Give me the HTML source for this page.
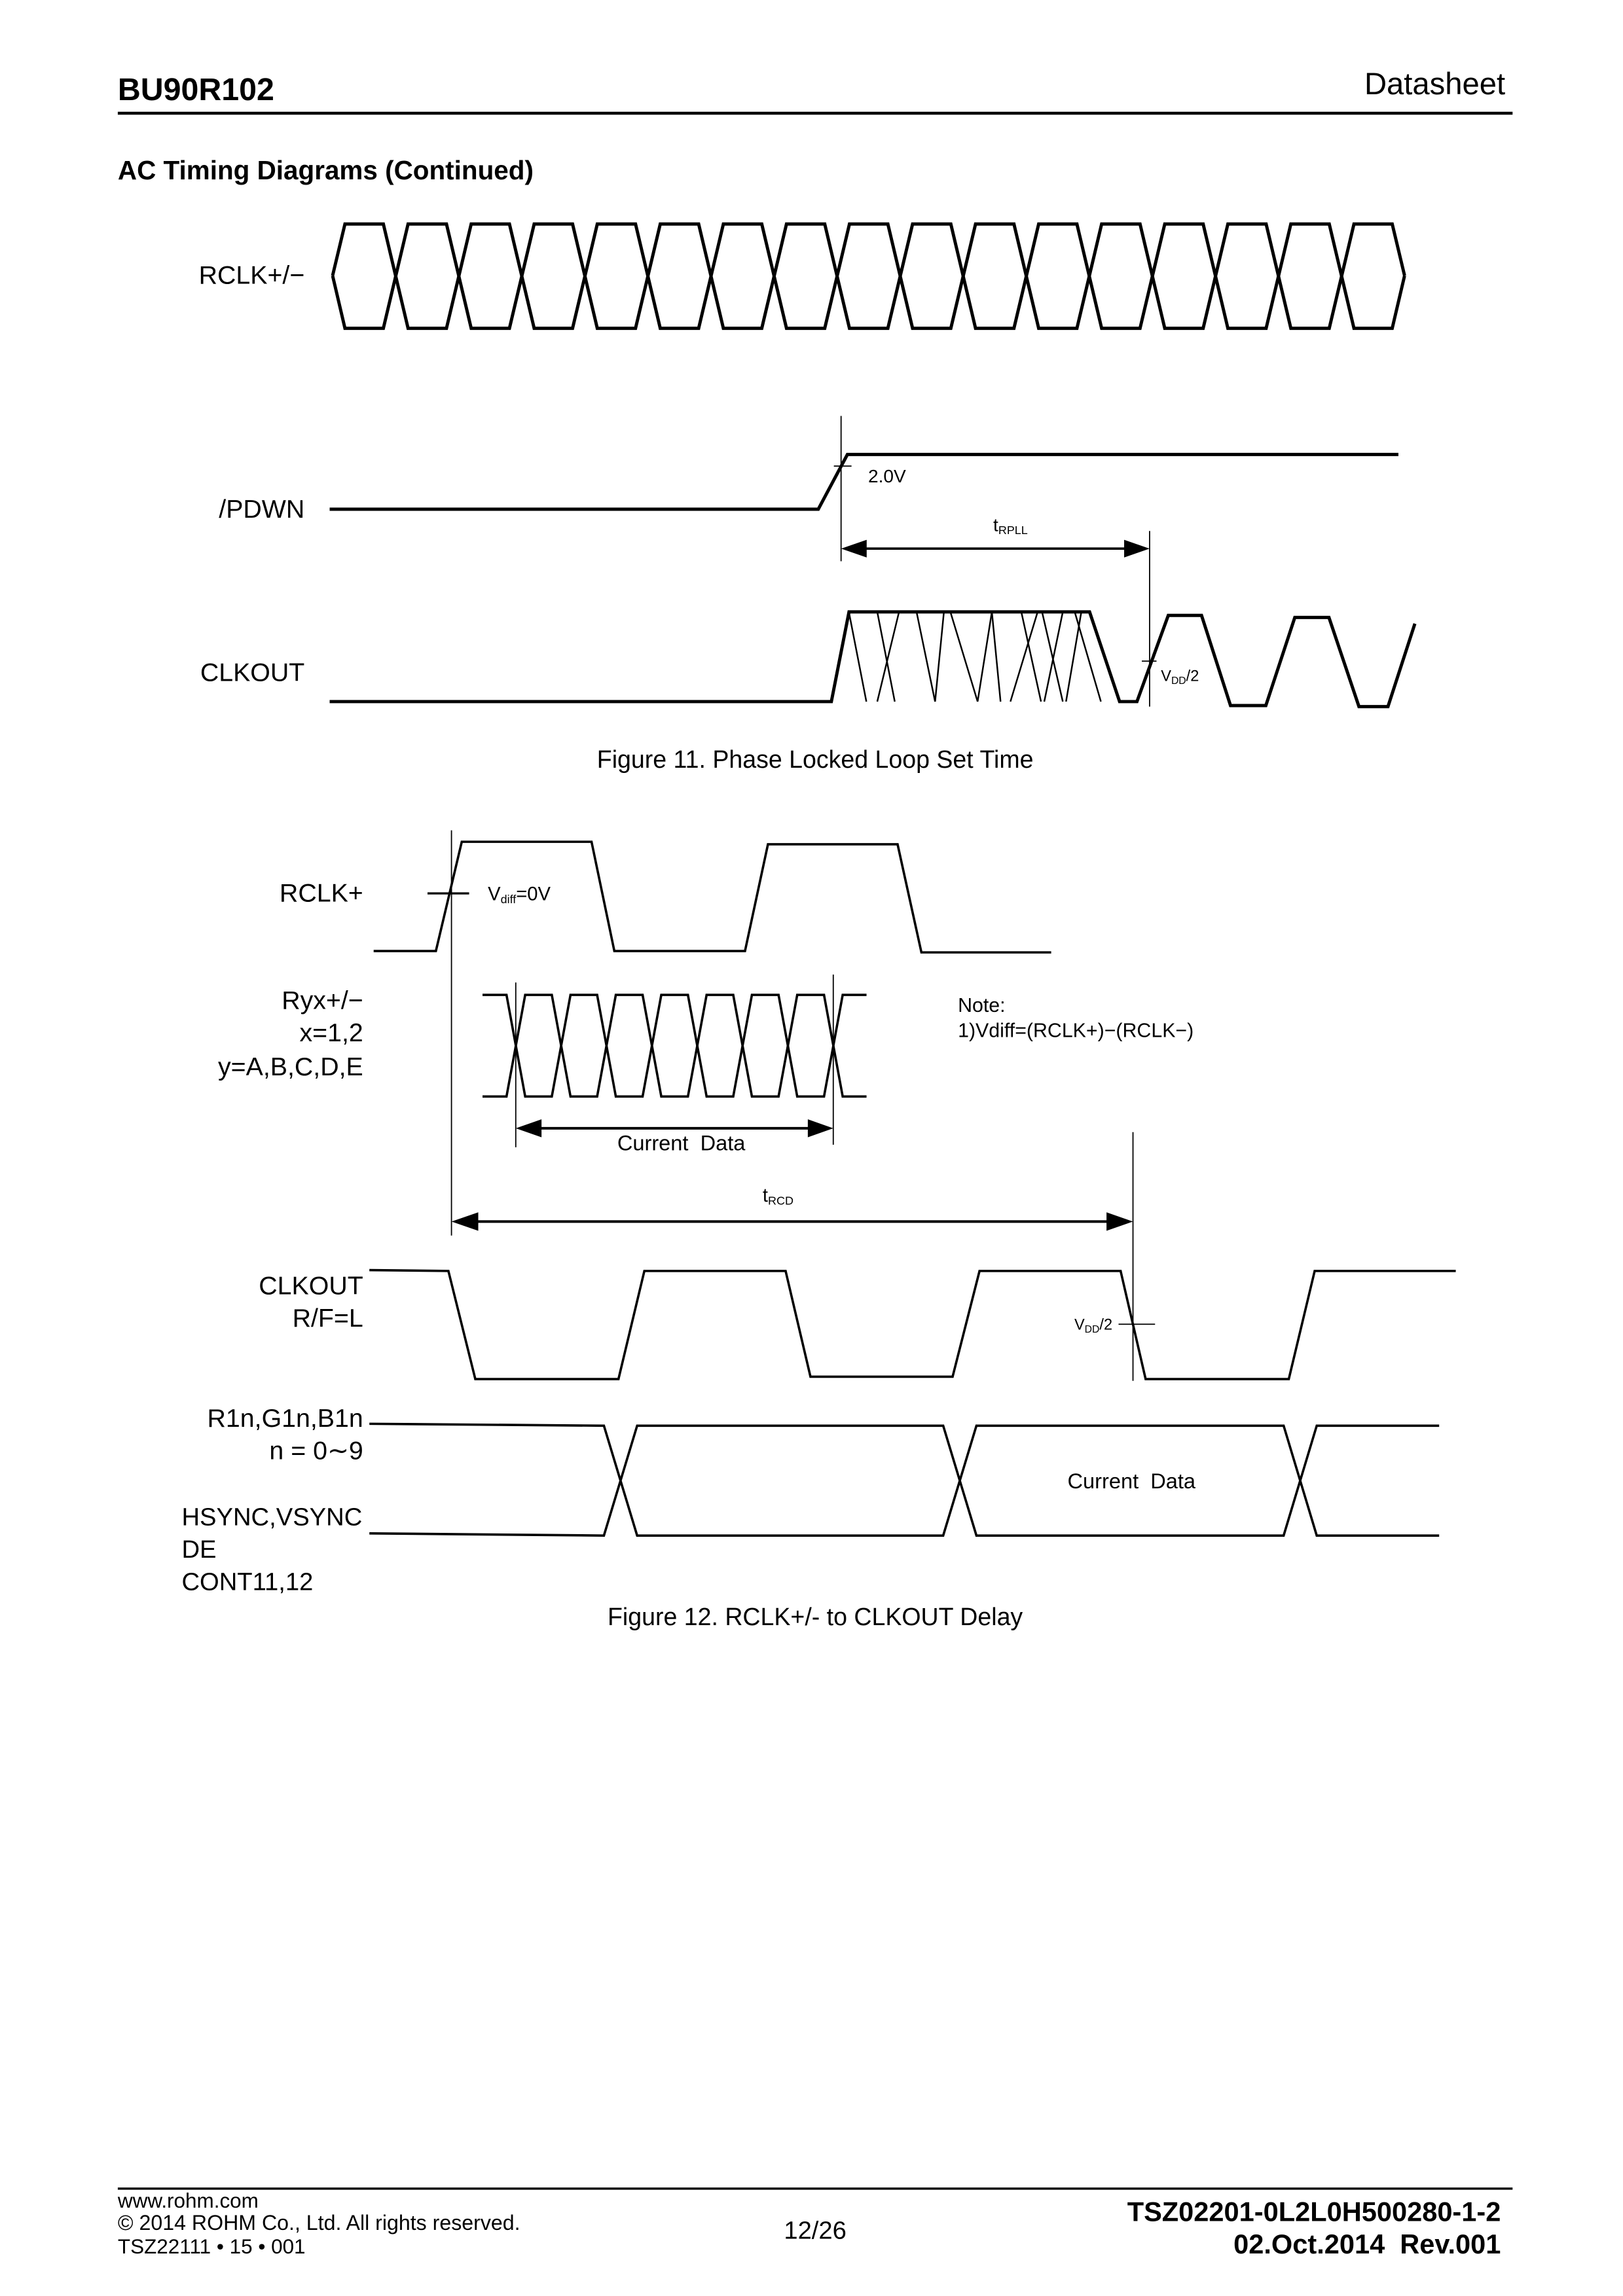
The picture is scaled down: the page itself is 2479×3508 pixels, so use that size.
<!DOCTYPE html>
<html><head><meta charset="utf-8"><style>
html,body{margin:0;padding:0;background:#fff;}
svg{display:block;}
text{font-family:"Liberation Sans",sans-serif;fill:#000;}
</style></head><body>
<svg width="2479" height="3508" viewBox="0 0 1103 1561" xmlns="http://www.w3.org/2000/svg">
<!-- header -->
<text x="80" y="68" font-size="21.5" font-weight="bold">BU90R102</text>
<text x="1023" y="64" font-size="21" text-anchor="end">Datasheet</text>
<line x1="80" y1="77" x2="1028" y2="77" stroke="#000" stroke-width="2"/>
<text x="80" y="122" font-size="18" font-weight="bold">AC Timing Diagrams (Continued)</text>

<g fill="none" stroke="#000" stroke-width="2.2" stroke-linejoin="miter">
<path d="M226,187.4 L234.4,152.3 L260.5,152.3 L277.3,223.2 L303.4,223.2 L320.2,152.3 L346.2,152.3 L363,223.2 L389.1,223.2 L405.9,152.3 L431.9,152.3 L448.7,223.2 L474.8,223.2 L491.6,152.3 L517.7,152.3 L534.5,223.2 L560.5,223.2 L577.3,152.3 L603.4,152.3 L620.2,223.2 L646.2,223.2 L663,152.3 L689.1,152.3 L705.9,223.2 L731.9,223.2 L748.7,152.3 L774.8,152.3 L791.6,223.2 L817.7,223.2 L834.5,152.3 L860.5,152.3 L877.3,223.2 L903.4,223.2 L920.2,152.3 L946.2,152.3 L954.6,187.4"/>
<path d="M226,187.4 L234.4,223.2 L260.5,223.2 L277.3,152.3 L303.4,152.3 L320.2,223.2 L346.2,223.2 L363,152.3 L389.1,152.3 L405.9,223.2 L431.9,223.2 L448.7,152.3 L474.8,152.3 L491.6,223.2 L517.7,223.2 L534.5,152.3 L560.5,152.3 L577.3,223.2 L603.4,223.2 L620.2,152.3 L646.2,152.3 L663,223.2 L689.1,223.2 L705.9,152.3 L731.9,152.3 L748.7,223.2 L774.8,223.2 L791.6,152.3 L817.7,152.3 L834.5,223.2 L860.5,223.2 L877.3,152.3 L903.4,152.3 L920.2,223.2 L946.2,223.2 L954.6,187.4"/>
<path d="M224,346.2 L556.1,346.2 L575.9,309 L950.4,309"/>
<path d="M224,477 L565,477 L577,416 L740.5,416 L760.9,477 L772.7,477 L794,418.4 L816.6,418.4 L836.3,479.7 L860.3,479.7 L880,419.8 L903.2,419.8 L923.6,480.4 L943.3,480.4 L961.6,424"/>
</g>
<g stroke="#000" stroke-width="1.1" fill="none">
<line x1="576.9" y1="416" x2="588.8" y2="477"/>
<line x1="596.2" y1="416" x2="608.1" y2="477"/>
<line x1="611" y1="416" x2="596.2" y2="477"/>
<line x1="622.9" y1="416" x2="635.5" y2="477"/>
<line x1="641.5" y1="416" x2="635.5" y2="477"/>
<line x1="645.9" y1="416" x2="664.4" y2="477"/>
<line x1="674.1" y1="416" x2="664.4" y2="477"/>
<line x1="674.1" y1="416" x2="680" y2="477"/>
<line x1="705.2" y1="416" x2="686.7" y2="477"/>
<line x1="694.1" y1="416" x2="707.5" y2="477"/>
<line x1="708.2" y1="416" x2="722.3" y2="477"/>
<line x1="722.3" y1="416" x2="709.7" y2="477"/>
<line x1="734.9" y1="416" x2="724.5" y2="477"/>
<line x1="730.4" y1="416" x2="748.2" y2="477"/>
</g>
<g stroke="#000" stroke-width="0.8" fill="none">
<line x1="571.6" y1="282.8" x2="571.6" y2="381.6"/>
<line x1="781.3" y1="361" x2="781.3" y2="480.4"/>
<line x1="566.7" y1="316.9" x2="578.7" y2="316.9"/>
<line x1="776" y1="449.5" x2="786" y2="449.5"/>
</g>
<line x1="582" y1="373" x2="771" y2="373" stroke="#000" stroke-width="1.6"/>
<polygon points="571.6,373 589,367 589,379" fill="#000"/>
<polygon points="781.3,373 764,367 764,379" fill="#000"/>
<text x="590" y="328" font-size="12.5">2.0V</text>
<text x="675" y="361" font-size="12.5">t<tspan font-size="8" dy="2">RPLL</tspan></text>
<text x="789" y="463" font-size="10.5">V<tspan font-size="7" dy="2">DD</tspan><tspan dy="-2">/2</tspan></text>
<text x="207" y="193" font-size="17.5" text-anchor="end">RCLK+/−</text>
<text x="207" y="352" font-size="17.5" text-anchor="end">/PDWN</text>
<text x="207" y="463" font-size="17.5" text-anchor="end">CLKOUT</text>
<text x="554" y="522" font-size="16.7" text-anchor="middle">Figure 11. Phase Locked Loop Set Time</text>

<!-- Figure 12 -->
<g fill="none" stroke="#000" stroke-width="1.6">
<path d="M253.9,646.6 L296.2,646.6 L313.8,572.3 L402,572.3 L417.5,646.6 L506.3,646.6 L521.9,574 L610,574 L626.2,647.5 L714.4,647.5"/>
<path d="M327.9,676.4 L344.2,676.4 L356.9,745.5 L375,745.5 L387.7,676.4 L405.8,676.4 L418.5,745.5 L436.7,745.5 L449.4,676.4 L467.5,676.4 L480.2,745.5 L498.3,745.5 L511,676.4 L529.1,676.4 L541.8,745.5 L560,745.5 L572.7,676.4 L588.9,676.4"/>
<path d="M327.9,745.5 L344.2,745.5 L356.9,676.4 L375,676.4 L387.7,745.5 L405.8,745.5 L418.5,676.4 L436.7,676.4 L449.4,745.5 L467.5,745.5 L480.2,676.4 L498.3,676.4 L511,745.5 L529.1,745.5 L541.8,676.4 L560,676.4 L572.7,745.5 L588.9,745.5"/>
<path d="M251,863.5 L304.7,864.1 L323,937.6 L420.3,937.6 L437.9,864.1 L533.9,864.1 L550.8,936 L647.4,936 L665.7,864.1 L761.6,864.1 L778.6,937.6 L875.9,937.6 L893.5,864.1 L989.4,864.1"/>
<path d="M251,968 L410.4,969.3 L433,1044 L641,1044 L663.6,969.3 L872.4,969.3 L894.9,1044 L978.1,1044"/>
<path d="M251,1042.5 L410.4,1044 L433,969.3 L641,969.3 L663.6,1044 L872.4,1044 L894.9,969.3 L978.1,969.3"/>
</g>
<g stroke="#000" stroke-width="0.8" fill="none">
<line x1="306.8" y1="564.5" x2="306.8" y2="840"/>
<line x1="290.5" y1="607.4" x2="318.8" y2="607.4" stroke-width="1.4"/>
<line x1="350.5" y1="668" x2="350.5" y2="780"/>
<line x1="566.3" y1="662.6" x2="566.3" y2="778.3"/>
<line x1="770" y1="769.7" x2="770" y2="938.8"/>
<line x1="760.2" y1="900.3" x2="785" y2="900.3"/>
</g>
<line x1="362" y1="767.1" x2="555" y2="767.1" stroke="#000" stroke-width="1.8"/>
<polygon points="350.5,767.1 368,761 368,773.2" fill="#000"/>
<polygon points="566.3,767.1 549,761 549,773.2" fill="#000"/>
<line x1="318" y1="830.5" x2="757" y2="830.5" stroke="#000" stroke-width="1.8"/>
<polygon points="306.8,830.5 325,824.2 325,836.8" fill="#000"/>
<polygon points="770,830.5 752,824.2 752,836.8" fill="#000"/>
<text x="331.5" y="612" font-size="13">V<tspan font-size="8" dy="2">diff</tspan><tspan dy="-2">=0V</tspan></text>
<text x="463" y="782" font-size="14.5" text-anchor="middle" xml:space="preserve">Current  Data</text>
<text x="518.3" y="817" font-size="13">t<tspan font-size="8" dy="2">RCD</tspan></text>
<text x="651" y="688" font-size="13.5">Note:</text>
<text x="651" y="705" font-size="13.5">1)Vdiff=(RCLK+)−(RCLK−)</text>
<text x="756" y="904" font-size="10.5" text-anchor="end">V<tspan font-size="7" dy="2">DD</tspan><tspan dy="-2">/2</tspan></text>
<text x="769" y="1012" font-size="14.5" text-anchor="middle" xml:space="preserve">Current  Data</text>
<text x="246.8" y="613" font-size="17.5" text-anchor="end">RCLK+</text>
<text x="246.8" y="686" font-size="17.5" text-anchor="end">Ryx+/−</text>
<text x="246.8" y="708" font-size="17.5" text-anchor="end">x=1,2</text>
<text x="246.8" y="731" font-size="17.5" text-anchor="end">y=A,B,C,D,E</text>
<text x="246.8" y="880" font-size="17.5" text-anchor="end">CLKOUT</text>
<text x="246.8" y="902" font-size="17.5" text-anchor="end">R/F=L</text>
<text x="246.8" y="970" font-size="17.5" text-anchor="end">R1n,G1n,B1n</text>
<text x="246.8" y="992" font-size="17.5" text-anchor="end">n = 0∼9</text>
<text x="123.4" y="1037" font-size="17">HSYNC,VSYNC</text>
<text x="123.4" y="1059" font-size="17">DE</text>
<text x="123.4" y="1081" font-size="17">CONT11,12</text>
<text x="554" y="1105" font-size="16.7" text-anchor="middle">Figure 12. RCLK+/- to CLKOUT Delay</text>

<!-- footer -->
<line x1="80" y1="1488" x2="1028" y2="1488" stroke="#000" stroke-width="1.5"/>
<text x="80" y="1501" font-size="14">www.rohm.com</text>
<text x="80" y="1516" font-size="14.3">© 2014 ROHM Co., Ltd. All rights reserved.</text>
<text x="80" y="1532" font-size="14">TSZ22111 • 15 • 001</text>
<text x="554" y="1522" font-size="17" text-anchor="middle">12/26</text>
<text x="1020" y="1510" font-size="18.5" font-weight="bold" text-anchor="end">TSZ02201-0L2L0H500280-1-2</text>
<text x="1020" y="1532" font-size="18.5" font-weight="bold" text-anchor="end" xml:space="preserve">02.Oct.2014  Rev.001</text>
</svg>
</body></html>
